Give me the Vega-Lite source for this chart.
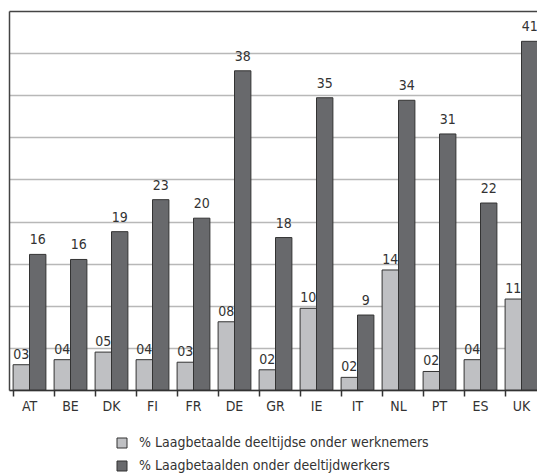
{
  "$schema": "https://vega.github.io/schema/vega-lite/v6.json",
  "width": 528,
  "height": 379,
  "autosize": {"type": "none"},
  "padding": {"left": 9, "top": 11, "right": 0, "bottom": 86},
  "background": "white",
  "config": {
    "view": {"stroke": null},
    "font": "DejaVu Sans Condensed, Liberation Sans Narrow, Open Sans, sans-serif"
  },
  "data": {
    "values": [
      {"country": "AT", "series": "% Laagbetaalde deeltijdse onder werknemers", "value": 3.0, "label": "03"},
      {"country": "AT", "series": "% Laagbetaalden onder deeltijdwerkers", "value": 16.1, "label": "16"},
      {"country": "BE", "series": "% Laagbetaalde deeltijdse onder werknemers", "value": 3.6, "label": "04"},
      {"country": "BE", "series": "% Laagbetaalden onder deeltijdwerkers", "value": 15.5, "label": "16"},
      {"country": "DK", "series": "% Laagbetaalde deeltijdse onder werknemers", "value": 4.5, "label": "05"},
      {"country": "DK", "series": "% Laagbetaalden onder deeltijdwerkers", "value": 18.8, "label": "19"},
      {"country": "FI", "series": "% Laagbetaalde deeltijdse onder werknemers", "value": 3.6, "label": "04"},
      {"country": "FI", "series": "% Laagbetaalden onder deeltijdwerkers", "value": 22.6, "label": "23"},
      {"country": "FR", "series": "% Laagbetaalde deeltijdse onder werknemers", "value": 3.3, "label": "03"},
      {"country": "FR", "series": "% Laagbetaalden onder deeltijdwerkers", "value": 20.4, "label": "20"},
      {"country": "DE", "series": "% Laagbetaalde deeltijdse onder werknemers", "value": 8.1, "label": "08"},
      {"country": "DE", "series": "% Laagbetaalden onder deeltijdwerkers", "value": 37.9, "label": "38"},
      {"country": "GR", "series": "% Laagbetaalde deeltijdse onder werknemers", "value": 2.4, "label": "02"},
      {"country": "GR", "series": "% Laagbetaalden onder deeltijdwerkers", "value": 18.1, "label": "18"},
      {"country": "IE", "series": "% Laagbetaalde deeltijdse onder werknemers", "value": 9.7, "label": "10"},
      {"country": "IE", "series": "% Laagbetaalden onder deeltijdwerkers", "value": 34.7, "label": "35"},
      {"country": "IT", "series": "% Laagbetaalde deeltijdse onder werknemers", "value": 1.5, "label": "02"},
      {"country": "IT", "series": "% Laagbetaalden onder deeltijdwerkers", "value": 8.9, "label": "9"},
      {"country": "NL", "series": "% Laagbetaalde deeltijdse onder werknemers", "value": 14.25, "label": "14"},
      {"country": "NL", "series": "% Laagbetaalden onder deeltijdwerkers", "value": 34.4, "label": "34"},
      {"country": "PT", "series": "% Laagbetaalde deeltijdse onder werknemers", "value": 2.2, "label": "02"},
      {"country": "PT", "series": "% Laagbetaalden onder deeltijdwerkers", "value": 30.4, "label": "31"},
      {"country": "ES", "series": "% Laagbetaalde deeltijdse onder werknemers", "value": 3.6, "label": "04"},
      {"country": "ES", "series": "% Laagbetaalden onder deeltijdwerkers", "value": 22.2, "label": "22"},
      {"country": "UK", "series": "% Laagbetaalde deeltijdse onder werknemers", "value": 10.8, "label": "11"},
      {"country": "UK", "series": "% Laagbetaalden onder deeltijdwerkers", "value": 41.4, "label": "41"}
    ]
  },
  "encoding": {
    "x": {
      "field": "country",
      "type": "nominal",
      "sort": null,
      "scale": {"range": [0, 533], "paddingInner": 0.2, "paddingOuter": 0.1},
      "axis": {
        "title": null,
        "labelAngle": 0,
        "labelFontSize": 14,
        "labelColor": "#333333",
        "labelPadding": 3,
        "bandPosition": 0,
        "tickSize": 6,
        "tickColor": "#333333",
        "tickWidth": 1.5,
        "domainColor": "#333333",
        "domainWidth": 1.5
      }
    },
    "xOffset": {"field": "series", "type": "nominal", "sort": null},
    "y": {
      "field": "value",
      "type": "quantitative",
      "scale": {"domain": [0, 45], "nice": false},
      "axis": {
        "title": null,
        "labels": false,
        "ticks": false,
        "values": [0, 5, 10, 15, 20, 25, 30, 35, 40, 45],
        "domainColor": "#444444",
        "domainWidth": 1.5,
        "gridColor": {"condition": {"test": "datum.value === 45", "value": "#444444"}, "value": "#b8b8b8"},
        "gridWidth": 1.5
      }
    }
  },
  "layer": [
    {
      "mark": {"type": "bar", "stroke": "#333333", "strokeWidth": 1},
      "encoding": {
        "color": {
          "field": "series",
          "type": "nominal",
          "sort": null,
          "scale": {"range": ["#bfc0c3", "#68696c"]},
          "legend": {
            "title": null,
            "orient": "none",
            "legendX": 106,
            "legendY": 425,
            "direction": "vertical",
            "symbolType": "square",
            "symbolSize": 100,
            "symbolStrokeColor": "#333333",
            "symbolStrokeWidth": 1,
            "symbolOpacity": 1,
            "labelFontSize": 14,
            "labelColor": "#333333",
            "labelOffset": 10,
            "labelLimit": 0,
            "rowPadding": 9,
            "padding": 0
          }
        }
      }
    },
    {
      "transform": [{"filter": "datum.series === '% Laagbetaalde deeltijdse onder werknemers'"}],
      "mark": {"type": "text", "baseline": "bottom", "dy": -3, "fontSize": 14, "color": "#333333"},
      "encoding": {"text": {"field": "label", "type": "nominal"}}
    },
    {
      "transform": [{"filter": "datum.series === '% Laagbetaalden onder deeltijdwerkers'"}],
      "mark": {"type": "text", "baseline": "bottom", "dy": -7, "fontSize": 14, "color": "#333333"},
      "encoding": {"text": {"field": "label", "type": "nominal"}}
    }
  ]
}
